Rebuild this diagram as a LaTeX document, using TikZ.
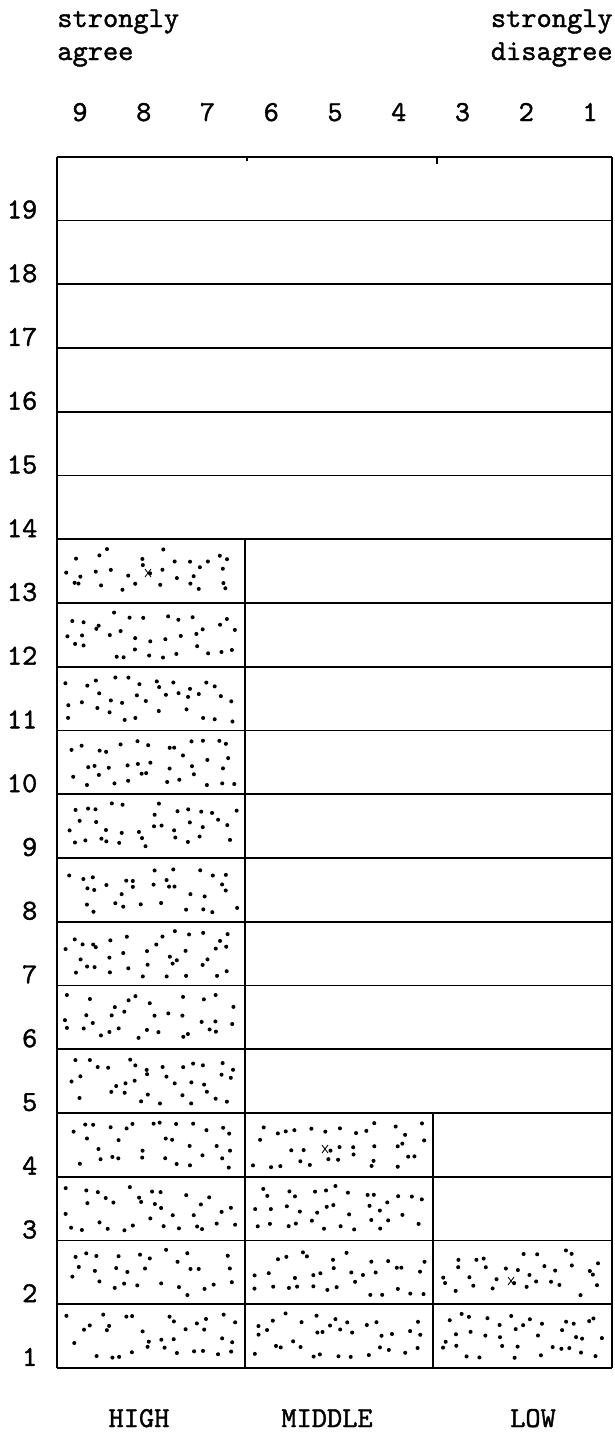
\documentclass[tikz,border=0pt]{standalone}
\usepackage{fontspec}
\usetikzlibrary{positioning}
\newfontfamily\typerfont[FakeBold=1.3]{lmmono10-regular.otf}

\begin{document}
\begin{tikzpicture}[
    x=0.02cm, y=-0.02cm,
    every node/.style={font=\typerfont\fontsize{16.5}{19}\selectfont, inner sep=0pt},
    grid/.style={line width=1.1pt},
    tickline/.style={line width=0.8pt},
    xmark/.style={line width=0.5pt},
    scale label/.style={anchor=base},
    row label/.style={anchor=base east},
    group label/.style={anchor=base},
]
\useasboundingbox (0,0) rectangle (615,1437);

% --- End labels ---
\node[anchor=base west] (agree1) at (57,27) {strongly};
\node[anchor=base west] (agree2) at (57,60) {agree};
\node[anchor=base east] (disagree1) at (613,27) {strongly};
\node[anchor=base east] (disagree2) at (613,60) {disagree};

% --- Scale numbers ---
\foreach \n [count=\c from 0] in {9,...,1}
  \node[scale label] (s\n) at ({80+\c*63.75},121) {\n};

% --- Row lines and row numbers ---
\foreach \k in {1,...,20} {
  \coordinate (L\k) at (57,{1368-(\k-1)*63.75});
  \coordinate (R\k) at (612,{1368-(\k-1)*63.75});
  \draw[grid] (L\k) -- (R\k);
}
\foreach \k in {1,...,19}
  \node[row label] (r\k) at ([xshift=-11pt, yshift=1.2pt]L\k) {\k};

% --- Column dividers ---
\coordinate (A14) at (245,{1368-13*63.75});
\coordinate (A1) at (245,1368);
\coordinate (B5) at (433,{1368-4*63.75});
\coordinate (B1) at (433,1368);
\draw[grid] (L20) -- (L1);
\draw[grid] (R20) -- (R1);
\draw[grid] (A14) -- (A1);
\draw[grid] (B5) -- (B1);

% small ticks under the top line
\draw[tickline] (247,157) -- (247,161);
\draw[tickline] (437,157) -- (437,164);

% --- Stipple ---
\pgfmathsetseed{2718}
\foreach \xl/\w/\top in {57/188/13, 245/188/4, 433/179/2} {
  \foreach \r in {1,...,\top} {
    \foreach \i in {0,...,12} {
      \foreach \j in {0,...,2} {
        \pgfmathsetmacro\dx{\xl+7+(\i+0.5)*(\w-14)/13+6*rand}
        \pgfmathsetmacro\dy{1368-\r*63.75+8+(\j+0.5)*(63.75-16)/3+7*rand}
        \pgfmathsetmacro\keep{rnd}
        \ifdim\keep pt>0.12pt
          \fill (\dx,\dy) circle[radius=1.15pt];
        \fi
      }
    }
  }
}

% --- Marks ---
\foreach \mx/\my in {148/573, 325/1149, 511/1281} {
  \draw[xmark] (\mx-3,\my-4) -- (\mx+3,\my+4);
  \draw[xmark] (\mx+3,\my-4) -- (\mx-3,\my+4);
}

% --- Group labels ---
\node[group label] (high) at (139,1427) {HIGH};
\node[group label] (middle) at (327,1427) {MIDDLE};
\node[group label] (low) at (533,1427) {LOW};

\end{tikzpicture}
\end{document}
